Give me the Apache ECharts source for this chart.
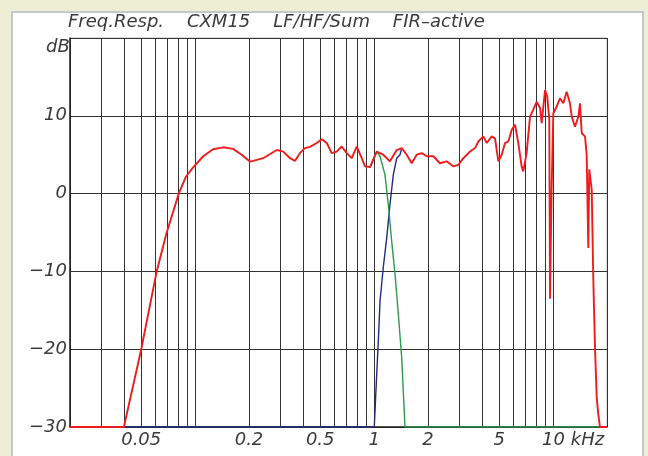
<!DOCTYPE html>
<html>
<head>
<meta charset="utf-8">
<script src="https://cdn.jsdelivr.net/npm/echarts@6/dist/echarts.min.js"></script>
<style>html,body{margin:0;padding:0;background:#eeeed4;}#c{width:648px;height:456px;}</style>
</head>
<body>
<div id="c"></div>
<script>
// ---- data (frequency in Hz, level in dB) ----
const sumFreq = [20,40,50,61,69,81,89,97,111,126,144,163,182,203,211,240,286,311,339,361,385,411,438,478,510,544,579,618,659,703,750,800,853,890,949,1034,1125,1226,1337,1426,1521,1622,1730,1845,1968,2143,2334,2543,2768,2952,3150,3432,3664,3820,4075,4257,4540,4737,4944,5164,5385,5622,5876,6126,6390,6670,6810,7112,7430,7746,8092,8454,8630,9016,9268,9520,9610,9796,10024,10472,10922,11396,11908,12420,12700,13240,13836,14132,14448,15072,15400,15728,15920,16070,16432,16770,17140,17520,17870,18270,20000];
const sumDb   = [-30,-30,-20,-10,-5.2,0,2.2,3.3,4.8,5.7,5.95,5.75,5.0,4.1,4.2,4.55,5.6,5.4,4.55,4.2,5.2,5.85,6.0,6.5,7.0,6.5,5.2,5.4,6.05,5.2,4.55,6.05,4.55,3.5,3.4,5.4,5.0,4.15,5.6,5.85,5.0,3.9,5.0,5.2,4.8,4.8,3.9,4.15,3.5,3.7,4.55,5.4,5.85,6.7,7.35,6.5,7.35,7.1,4.15,5.0,6.5,6.7,8.2,8.85,6.5,3.5,2.85,5.2,9.9,10.8,11.8,11.0,9.05,13.3,12.5,9.5,-13.5,0,10.3,11.2,12.25,11.6,13.1,11.6,9.9,8.6,9.9,11.6,7.75,7.35,5.0,-7.0,3.1,3.1,0.5,-11,-19.8,-26.2,-28.3,-30,-30];

const hfFreq = [20,1002,1034,1056,1079,1125,1176,1226,1280,1337,1396,1426];
const hfDb   = [-30,-30,-23.2,-18.9,-13.8,-9.5,-5.7,-1.4,2.4,4.55,5.0,5.85];

const lfFreq = [949,1034,1079,1150,1200,1253,1309,1366,1426,1488,20000];
const lfDb   = [3.4,5.4,4.8,2.4,-1.4,-6.1,-10.4,-15.5,-21.1,-30,-30];

const gridFreqs = [20,30,40,50,60,70,80,90,100,200,300,400,500,600,700,800,900,1000,2000,3000,4000,5000,6000,7000,8000,9000,10000,20000];
const labelFreqs = [50,200,500,1000,2000,5000,10000];
const labelTexts = ['0.05','0.2','0.5','1','2','5','10 kHz'];

const zip = (a,b) => a.map((v,i)=>[v,b[i]]);
const chart = echarts.init(document.getElementById('c'), null, {renderer:'canvas'});
const fontFam = '"DejaVu Sans", sans-serif';
const txtCol = '#3a3a3a';
chart.setOption({
  animation:false,
  backgroundColor:'#eeeed4',
  graphic:[
    {type:'rect', z:-10, shape:{x:12,y:12,width:631,height:460}, style:{fill:'#ffffff', stroke:'#c4c8cc', lineWidth:2}},
    {type:'text', left:68, top:13, style:{text:'Freq.Resp.    CXM15    LF/HF/Sum    FIR–active', font:'italic 18px '+fontFam, fill:txtCol}},
    {type:'text', left:46, top:38, style:{text:'dB', font:'italic 18px '+fontFam, fill:txtCol}}
  ],
  grid:{left:70, right:41, top:38, bottom:29, show:true, backgroundColor:'#fff', borderColor:'#bbb', borderWidth:1},
  xAxis:{
    type:'log', logBase:10, min:20, max:20000,
    axisLine:{show:true, onZero:false, lineStyle:{color:'#222', width:1.5}},
    axisTick:{show:false, customValues:gridFreqs},
    splitLine:{show:true, lineStyle:{color:'#333', width:1}},
    axisLabel:{
      customValues:labelFreqs, margin:4,
      fontSize:18, fontStyle:'italic', fontFamily:fontFam, color:txtCol,
      formatter:(v)=>{ const i = labelFreqs.indexOf(Math.round(v)); const t = i>=0?labelTexts[i]:''; return t==='10 kHz' ? '{k|'+t+'}' : t; },
      rich:{k:{fontSize:18, fontStyle:'italic', fontFamily:fontFam, color:txtCol, padding:[0,0,0,40]}}
    }
  },
  yAxis:{
    type:'value', min:-30, max:20, interval:10,
    axisLine:{show:true, onZero:false, lineStyle:{color:'#222', width:1.5}},
    axisTick:{show:false},
    splitLine:{show:true, lineStyle:{color:'#333', width:1}},
    axisLabel:{margin:3, fontSize:18, fontStyle:'italic', fontFamily:fontFam, color:txtCol,
      formatter:(v)=> v===20 ? '' : (v<0 ? '\u2212'+Math.abs(v) : String(v))}
  },
  series:[
    {type:'line', name:'HF', data:zip(hfFreq,hfDb), showSymbol:false, z:2, lineStyle:{color:'#1f2a80', width:1.4}},
    {type:'line', name:'LF', data:zip(lfFreq,lfDb), showSymbol:false, z:3, lineStyle:{color:'#2a9a4a', width:1.4}},
    {type:'line', name:'Sum', data:zip(sumFreq,sumDb), showSymbol:false, z:4, lineStyle:{color:'#ee1c1c', width:1.9}}
  ]
});
</script>
</body>
</html>
